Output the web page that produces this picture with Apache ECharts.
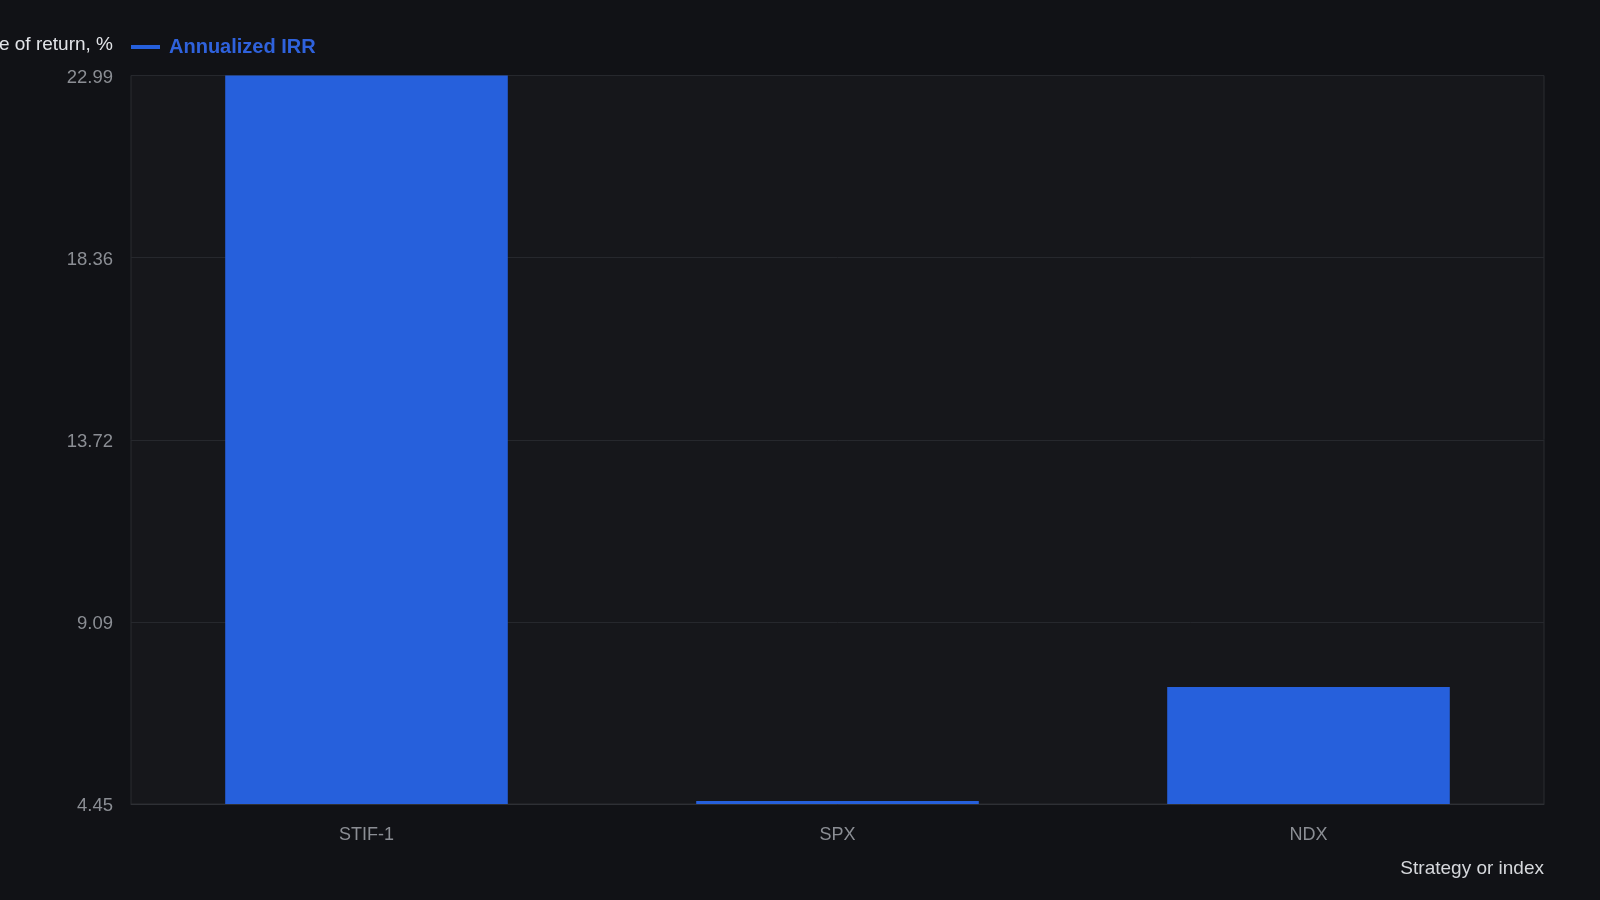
<!DOCTYPE html>
<html>
<head>
<meta charset="utf-8">
<script src="https://cdn.jsdelivr.net/npm/echarts@6/dist/echarts.min.js"></script>
<style>
html,body{margin:0;padding:0;background:#111216;}
#c{width:1600px;height:900px;}
</style>
</head>
<body>
<div id="c"></div>
<script>
const categories = ['STIF-1', 'SPX', 'NDX'];
const irrValues = [22.99, 4.45, 7.43];
const yTickLabels = ['4.45', '9.09', '13.72', '18.36', '22.99'];
const yMin = 4.45;
const yMax = 22.99;

const font = "'Liberation Sans', Arial, sans-serif";
const chart = echarts.init(document.getElementById('c'));
chart.setOption({
  backgroundColor: '#111216',
  animation: false,
  textStyle: { fontFamily: font },
  legend: {
    left: 126,
    top: 32,
    icon: 'rect',
    itemWidth: 29,
    itemHeight: 4,
    data: ['Annualized IRR'],
    textStyle: { color: '#2f62dc', fontSize: 20, fontWeight: 'bold', fontFamily: font, padding: [0, 0, 0, 4] }
  },
  grid: {
    left: 131, right: 56, top: 75.5, bottom: 96,
    containLabel: false,
    outerBoundsMode: 'none',
    show: true,
    backgroundColor: '#16171b',
    borderColor: '#2a2c31',
    borderWidth: 1
  },
  xAxis: {
    type: 'category',
    data: categories,
    name: 'Strategy or index',
    nameLocation: 'end',
    nameGap: 0,
    nameTextStyle: {
      color: '#d6d8dc', fontSize: 19, align: 'right', verticalAlign: 'top',
      padding: [55, 0, 0, 0], fontFamily: font
    },
    axisLine: { show: true, lineStyle: { color: '#2e3035' } },
    axisTick: { show: false },
    axisLabel: { color: '#8b8e94', fontSize: 18, margin: 22, fontFamily: font },
    splitLine: { show: false }
  },
  yAxis: [
    {
      type: 'value',
      position: 'left',
      min: yMin,
      max: yMax,
      startValue: yMin,
      axisLine: { show: false },
      axisTick: { show: false },
      axisLabel: { show: false },
      splitLine: { show: false }
    },
    {
      type: 'value',
      position: 'left',
      min: 0,
      max: yTickLabels.length - 1,
      interval: 1,
      name: 'Rate of return, %',
      nameLocation: 'end',
      nameGap: 21,
      nameTextStyle: {
        color: '#e2e4e8', fontSize: 19, align: 'right', padding: [0, 18, 0, 0], fontFamily: font
      },
      axisLine: { show: false },
      axisTick: { show: false },
      axisLabel: {
        color: '#8b8e94', fontSize: 18.5, margin: 18, fontFamily: font,
        verticalAlign: 'top',
        lineHeight: 4,
        formatter: function (v) { return yTickLabels[Math.round(v)]; }
      },
      splitLine: { show: true, lineStyle: { color: '#26282d', width: 1 } }
    }
  ],
  series: [
    {
      name: 'Annualized IRR',
      type: 'bar',
      yAxisIndex: 0,
      data: irrValues,
      barWidth: '60%',
      barMinHeight: 3,
      clip: false,
      itemStyle: { color: '#2660dc' }
    }
  ]
});
</script>
</body>
</html>
